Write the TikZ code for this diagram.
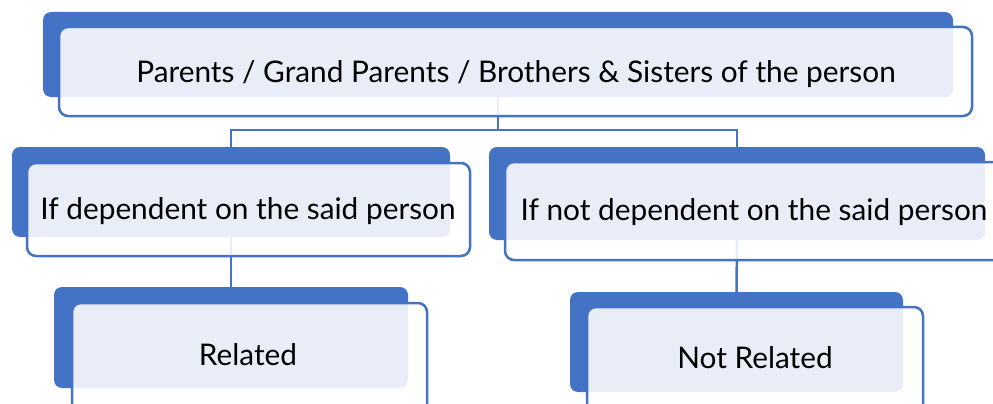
\documentclass[tikz,border=0pt]{standalone}
\usepackage{fontspec}
\setmainfont{Lato}
\usetikzlibrary{fit}
\definecolor{accent}{HTML}{4472C4}
\begin{document}
\begin{tikzpicture}[x=1pt,y=-1pt,
  backbox/.style={draw=none, fill=accent, rounded corners=8pt, inner sep=0pt},
  frontbox/.style={draw=accent, line width=2.5pt, fill=white, fill opacity=0.88,
                   draw opacity=1, rounded corners=9pt, inner sep=0pt},
  caption/.style={font=\fontsize{29.8}{34}\selectfont, text=black, anchor=base, inner sep=0pt},
  link/.style={draw=accent, line width=2.5pt}]
\useasboundingbox (0,0) rectangle (993,404);
\clip (0,0) rectangle (993,404);

% back panels
\node[backbox, fit={(43,12) (953,97)}] (b1) {};
\node[backbox, fit={(12,147) (450,237)}] (b2) {};
\node[backbox, fit={(489,147) (985,240)}] (b3) {};
\node[backbox, fit={(54,287) (408,388)}] (b4) {};
\node[backbox, fit={(570,292) (903,392)}] (b5) {};

% connectors
\coordinate (j1) at (498,130);
\draw[link] (b1.south) -- (j1);
\draw[link] (b2.north) |- (j1) -| (b3.north);
\draw[link] (b2.south) -- (b4.north);
\draw[link] (b3.south) -- (b5.north);

% front panels
\node[frontbox, fit={(59,27) (972,116)}] (f1) {};
\node[frontbox, fit={(27,163) (470,256)}] (f2) {};
\node[frontbox, fit={(505,162) (1005,260)}] (f3) {};
\node[frontbox, fit={(72,303) (427,420)}] (f4) {};
\node[frontbox, fit={(587,307) (923,420)}] (f5) {};

% labels
\node[caption] (t1) at (516,82) {Parents / Grand Parents / Brothers \& Sisters of the person};
\node[caption] (t2) at (248,219) {If dependent on the said person};
\node[caption] (t3) at (754,220) {If not dependent on the said person};
\node[caption] (t4) at (248,365) {Related};
\node[caption] (t5) at (755,368) {Not Related};
\end{tikzpicture}
\end{document}
